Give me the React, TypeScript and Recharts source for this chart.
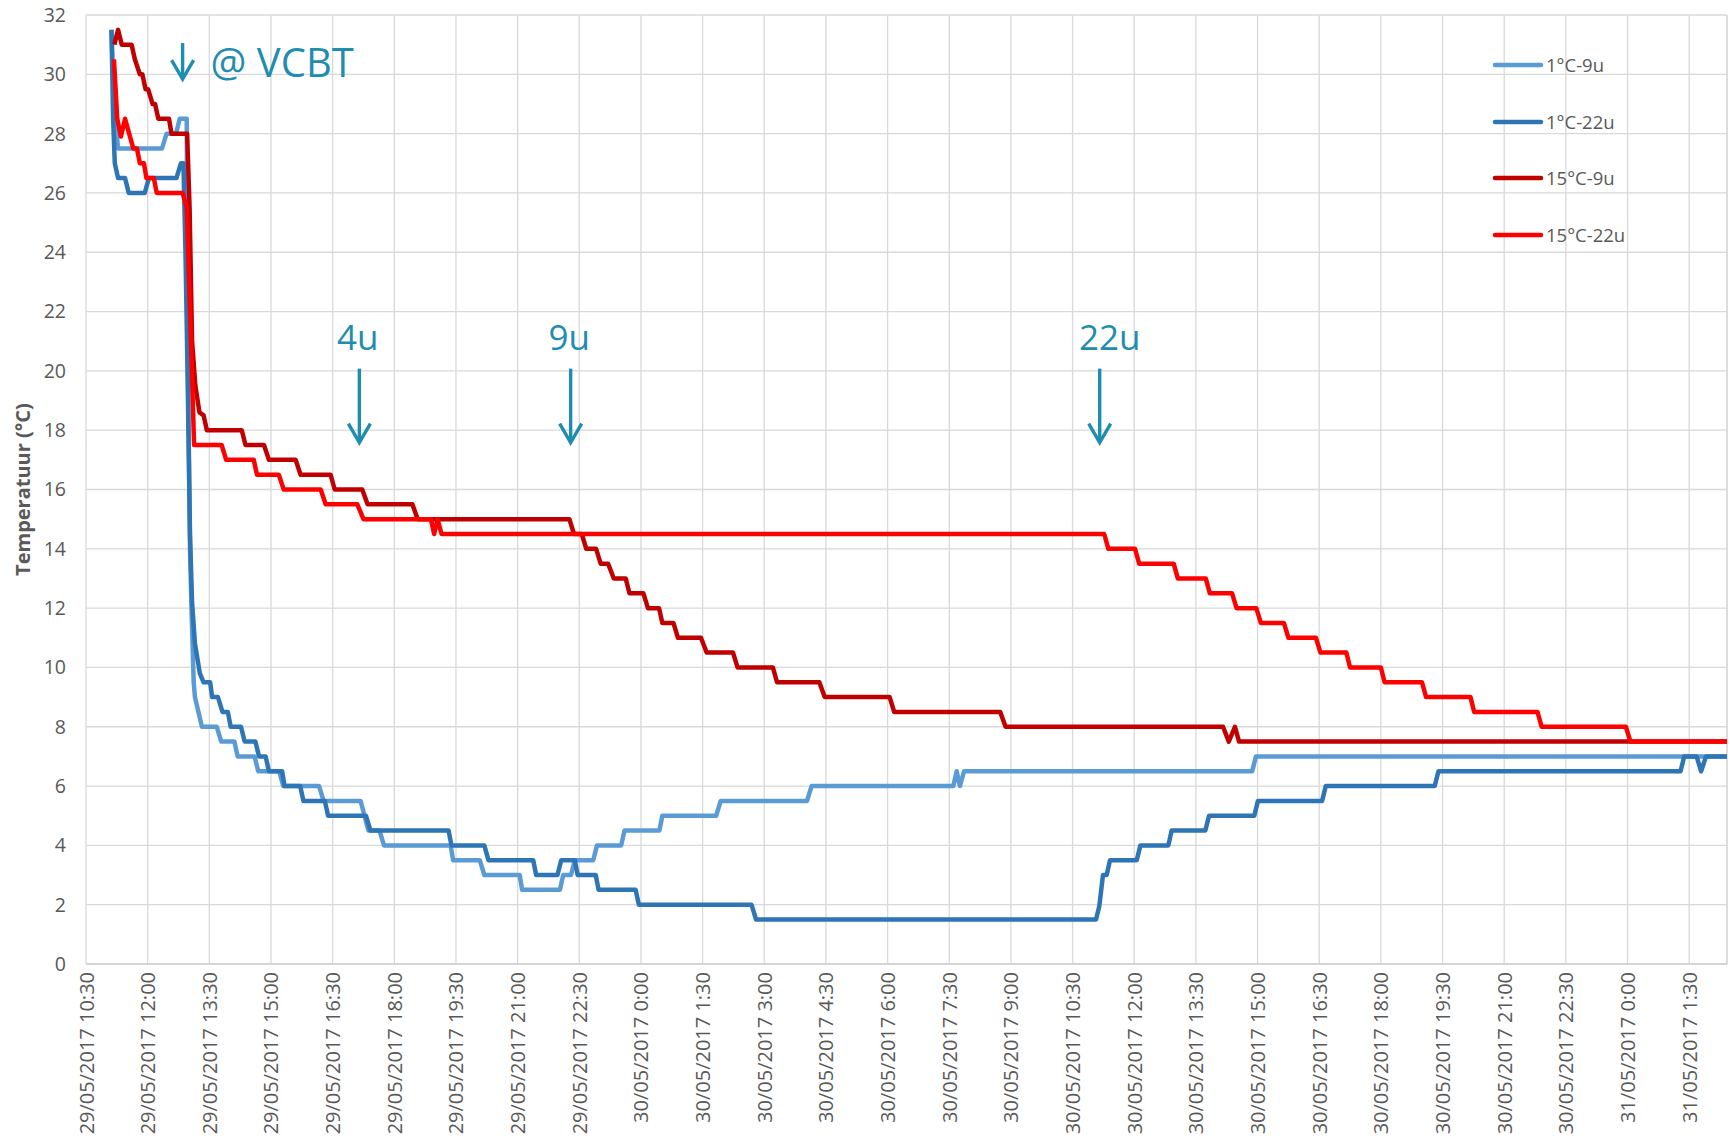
import React from "react";
import {
  LineChart,
  Line,
  XAxis,
  YAxis,
  CartesianGrid,
  Legend,
  ReferenceDot,
  ReferenceLine,
} from "recharts";

// time axis: hours since 29/05/2017 10:30
const xTicks = [0, 1.5, 3, 4.5, 6, 7.5, 9, 10.5, 12, 13.5, 15, 16.5, 18, 19.5, 21, 22.5, 24, 25.5, 27, 28.5, 30, 31.5, 33, 34.5, 36, 37.5, 39];
const xTickLabels = [
  "29/05/2017 10:30", "29/05/2017 12:00", "29/05/2017 13:30", "29/05/2017 15:00",
  "29/05/2017 16:30", "29/05/2017 18:00", "29/05/2017 19:30", "29/05/2017 21:00",
  "29/05/2017 22:30", "30/05/2017 0:00", "30/05/2017 1:30", "30/05/2017 3:00",
  "30/05/2017 4:30", "30/05/2017 6:00", "30/05/2017 7:30", "30/05/2017 9:00",
  "30/05/2017 10:30", "30/05/2017 12:00", "30/05/2017 13:30", "30/05/2017 15:00",
  "30/05/2017 16:30", "30/05/2017 18:00", "30/05/2017 19:30", "30/05/2017 21:00",
  "30/05/2017 22:30", "31/05/2017 0:00", "31/05/2017 1:30",
];
const xEnd = 39.92;
const yTicks = [0, 2, 4, 6, 8, 10, 12, 14, 16, 18, 20, 22, 24, 26, 28, 30, 32];

// [hours, °C]
const cold9: [number, number][] = [
  [0.62, 31.5], [0.68, 29.0], [0.78, 27.5], [1.85, 27.5], [1.96, 28], [2.19, 28], [2.28, 28.5], [2.45, 28.5],
  [2.48, 20], [2.53, 14], [2.57, 11.8], [2.62, 9.5], [2.65, 9.0], [2.82, 8.0],
  [3.18, 8.0], [3.29, 7.5], [3.61, 7.5], [3.69, 7.0], [4.1, 7.0], [4.19, 6.5], [4.7, 6.5], [4.8, 6.0],
  [5.67, 6.0], [5.78, 5.5], [6.68, 5.5], [6.87, 4.5], [7.14, 4.5], [7.25, 4.0], [8.87, 4.0], [8.93, 3.5],
  [9.58, 3.5], [9.69, 3.0], [10.55, 3.0], [10.61, 2.5], [11.53, 2.5], [11.61, 3.0], [11.8, 3.0], [11.89, 3.5],
  [12.34, 3.5], [12.43, 4.0], [13.02, 4.0], [13.1, 4.5], [13.95, 4.5], [14.02, 5.0], [15.33, 5.0], [15.44, 5.5],
  [17.54, 5.5], [17.65, 6.0], [21.1, 6.0], [21.18, 6.5], [21.26, 6.0], [21.36, 6.5], [28.37, 6.5], [28.46, 7.0],
  [39.92, 7.0],
];
const cold22: [number, number][] = [
  [0.62, 31.5], [0.66, 28.5], [0.7, 27.0], [0.78, 26.5], [0.95, 26.5], [1.04, 26.0], [1.43, 26.0], [1.53, 26.5],
  [2.2, 26.5], [2.31, 27.0], [2.37, 27.0], [2.42, 24], [2.47, 20], [2.53, 14.5], [2.58, 12.2], [2.65, 10.8],
  [2.77, 9.8], [2.86, 9.5], [3.02, 9.5], [3.07, 9.0], [3.21, 9.0], [3.32, 8.5], [3.45, 8.5], [3.52, 8.0],
  [3.77, 8.0], [3.86, 7.5], [4.12, 7.5], [4.21, 7.0], [4.37, 7.0], [4.45, 6.5], [4.77, 6.5], [4.83, 6.0],
  [5.21, 6.0], [5.29, 5.5], [5.81, 5.5], [5.89, 5.0], [6.81, 5.0], [6.92, 4.5], [8.82, 4.5], [8.89, 4.0],
  [9.69, 4.0], [9.79, 3.5], [10.88, 3.5], [10.95, 3.0], [11.47, 3.0], [11.56, 3.5], [11.89, 3.5], [11.96, 3.0],
  [12.4, 3.0], [12.47, 2.5], [13.37, 2.5], [13.45, 2.0], [16.19, 2.0], [16.3, 1.5], [24.57, 1.5], [24.65, 1.95],
  [24.74, 3.0], [24.83, 3.0], [24.91, 3.5], [25.56, 3.5], [25.65, 4.0], [26.33, 4.0], [26.41, 4.5], [27.23, 4.5],
  [27.32, 5.0], [28.42, 5.0], [28.51, 5.5], [30.07, 5.5], [30.16, 6.0], [32.81, 6.0], [32.9, 6.5], [38.79, 6.5],
  [38.88, 7.0], [39.18, 7.0], [39.29, 6.5], [39.41, 7.0], [39.92, 7.0],
];
const warm9: [number, number][] = [
  [0.69, 31.0], [0.78, 31.5], [0.87, 31.0], [1.11, 31.0], [1.19, 30.5], [1.31, 30.0], [1.37, 30.0], [1.45, 29.5],
  [1.51, 29.5], [1.62, 29.0], [1.68, 29.0], [1.76, 28.5], [2.02, 28.5], [2.08, 28.0], [2.46, 28.0], [2.52, 25.5],
  [2.58, 21.0], [2.66, 19.5], [2.76, 18.6], [2.86, 18.5], [2.94, 18.0], [3.79, 18.0], [3.88, 17.5], [4.33, 17.5],
  [4.45, 17.0], [5.1, 17.0], [5.22, 16.5], [5.95, 16.5], [6.05, 16.0], [6.72, 16.0], [6.85, 15.5], [7.94, 15.5],
  [8.07, 15.0], [11.76, 15.0], [11.87, 14.5], [12.06, 14.5], [12.17, 14.0], [12.41, 14.0], [12.52, 13.5], [12.7, 13.5],
  [12.84, 13.0], [13.13, 13.0], [13.22, 12.5], [13.56, 12.5], [13.67, 12.0], [13.94, 12.0], [14.02, 11.5], [14.29, 11.5],
  [14.4, 11.0], [14.96, 11.0], [15.1, 10.5], [15.74, 10.5], [15.85, 10.0], [16.71, 10.0], [16.81, 9.5], [17.84, 9.5],
  [17.97, 9.0], [19.55, 9.0], [19.66, 8.5], [22.24, 8.5], [22.37, 8.0], [27.66, 8.0], [27.8, 7.5], [27.95, 8.0],
  [28.05, 7.5], [39.92, 7.5],
];
const warm22: [number, number][] = [
  [0.68, 30.5], [0.76, 28.5], [0.85, 27.9], [0.95, 28.5], [1.15, 27.5], [1.24, 27.5], [1.31, 27.0], [1.41, 27.0],
  [1.47, 26.5], [1.65, 26.5], [1.72, 26.0], [2.35, 26.0], [2.45, 25.5], [2.53, 22], [2.63, 17.5], [3.3, 17.5],
  [3.41, 17.0], [4.08, 17.0], [4.16, 16.5], [4.69, 16.5], [4.81, 16.0], [5.71, 16.0], [5.83, 15.5], [6.6, 15.5],
  [6.75, 15.0], [8.39, 15.0], [8.47, 14.5], [8.55, 15.0], [8.65, 14.5], [24.77, 14.5], [24.87, 14.0], [25.52, 14.0],
  [25.62, 13.5], [26.46, 13.5], [26.56, 13.0], [27.24, 13.0], [27.34, 12.5], [27.88, 12.5], [27.99, 12.0], [28.47, 12.0],
  [28.58, 11.5], [29.14, 11.5], [29.25, 11.0], [29.92, 11.0], [30.03, 10.5], [30.66, 10.5], [30.75, 10.0], [31.5, 10.0],
  [31.59, 9.5], [32.5, 9.5], [32.6, 9.0], [33.68, 9.0], [33.77, 8.5], [35.31, 8.5], [35.41, 8.0], [37.46, 8.0],
  [37.57, 7.5], [39.92, 7.5],
];

const series = [
  { key: "cold9", name: "1°C-9u", color: "#5B9BD5", points: cold9 },
  { key: "cold22", name: "1°C-22u", color: "#2E75B6", points: cold22 },
  { key: "warm9", name: "15°C-9u", color: "#C00000", points: warm9 },
  { key: "warm22", name: "15°C-22u", color: "#FF0000", points: warm22 },
];

// arrow tips (hours, °C)
const markers = [
  { t: 2.35, v: 29.84, label: "@ VCBT" },
  { t: 6.65, v: 17.58, label: "4u" },
  { t: 11.79, v: 17.58, label: "9u" },
  { t: 24.66, v: 17.58, label: "22u" },
];

const FONT = "'Open Sans', 'Liberation Sans', sans-serif";
const GREY = "#595959";
const TEAL = "#1F8DB0";
const GRID = "#D9D9D9";

function XTick(props: any) {
  const { x, y, payload } = props;
  const label = xTickLabels[xTicks.indexOf(payload.value)] ?? "";
  return (
    <text
      transform={`translate(${x},${y}) rotate(-90)`}
      textAnchor="end"
      dominantBaseline="central"
      fill={GREY}
      fontSize={20}
      fontFamily={FONT}
    >
      {label}
    </text>
  );
}

function YTitle(props: any) {
  const vb = props.viewBox || {};
  const cx = (vb.x ?? 0) + 22;
  const cy = (vb.y ?? 0) + (vb.height ?? 0) / 2;
  return (
    <text
      transform={`translate(${cx},${cy}) rotate(-90)`}
      textAnchor="middle"
      dominantBaseline="central"
      fill={GREY}
      fontSize={20}
      fontWeight="bold"
      fontFamily={FONT}
    >
      Temperatuur (°C)
    </text>
  );
}

function ArrowMark(props: any) {
  const { cx, cy, label } = props;
  const isTop = label === "@ VCBT";
  const shaft = isTop ? 36 : 74;
  const textDx = label === "22u" ? 10 : -1.5;
  return (
    <g>
      <line x1={cx} y1={cy - shaft} x2={cx} y2={cy - 1} stroke={TEAL} strokeWidth={3.4} />
      <polyline
        points={`${cx - 11},${cy - 19} ${cx},${cy} ${cx + 11},${cy - 19}`}
        stroke={TEAL}
        strokeWidth={3.4}
        fill="none"
      />
      {isTop ? (
        <text x={cx + 28} y={cy - 2} fill={TEAL} fontSize={40} fontFamily={FONT}>
          {label}
        </text>
      ) : (
        <text x={cx + textDx} y={cy - 93} textAnchor="middle" fill={TEAL} fontSize={35} fontFamily={FONT}>
          {label}
        </text>
      )}
    </g>
  );
}

function LegendBox() {
  return (
    <div style={{ display: "flex", flexDirection: "column" }}>
      {series.map((s) => (
        <div key={s.key} style={{ height: 56.5, display: "flex", alignItems: "center" }}>
          <svg width={52} height={8} style={{ display: "block" }}>
            <line x1={3} y1={4} x2={49} y2={4} stroke={s.color} strokeWidth={4.5} strokeLinecap="round" />
          </svg>
          <span style={{ marginLeft: 2, fontSize: 18.5, color: GREY, fontFamily: FONT, lineHeight: "20px" }}>
            {s.name}
          </span>
        </div>
      ))}
    </div>
  );
}

export default function App() {
  return (
    <div style={{ position: "absolute", left: 0, top: 0, width: 1731, height: 1139, background: "#fff" }}>
      <LineChart width={1731} height={1139} margin={{ top: 15, right: 4, left: 0, bottom: 0 }}>
        <CartesianGrid stroke={GRID} strokeWidth={1.3} />
        <XAxis
          dataKey="t"
          type="number"
          domain={[0, xEnd]}
          ticks={xTicks}
          interval={0}
          height={175}
          tick={<XTick />}
          tickLine={false}
          tickSize={0}
          tickMargin={8}
          axisLine={{ stroke: "#CFCFCF", strokeWidth: 1.5 }}
          allowDataOverflow
        />
        <YAxis
          type="number"
          domain={[0, 32]}
          ticks={yTicks}
          interval={0}
          width={86}
          axisLine={false}
          tickLine={false}
          tickSize={0}
          tickMargin={20}
          tick={{ fill: GREY, fontSize: 19.5, fontFamily: FONT }}
          label={<YTitle />}
        />
        <ReferenceLine x={xEnd} stroke={GRID} strokeWidth={1.3} />
        <Legend
          layout="horizontal"
          verticalAlign="middle"
          align="center"
          content={<LegendBox />}
          wrapperStyle={{ left: 1492, top: 37, width: 220, height: 230 }}
        />
        {series.map((s) => (
          <Line
            key={s.key}
            data={s.points.map(([t, v]) => ({ t, v }))}
            dataKey="v"
            name={s.name}
            type="linear"
            stroke={s.color}
            strokeWidth={4.5}
            strokeLinejoin="round"
            dot={false}
            activeDot={false}
            isAnimationActive={false}
          />
        ))}
        {markers.map((m) => (
          <ReferenceDot
            key={m.label}
            x={m.t}
            y={m.v}
            r={0}
            ifOverflow="visible"
            shape={(p: any) => <ArrowMark {...p} label={m.label} />}
          />
        ))}
      </LineChart>
    </div>
  );
}
